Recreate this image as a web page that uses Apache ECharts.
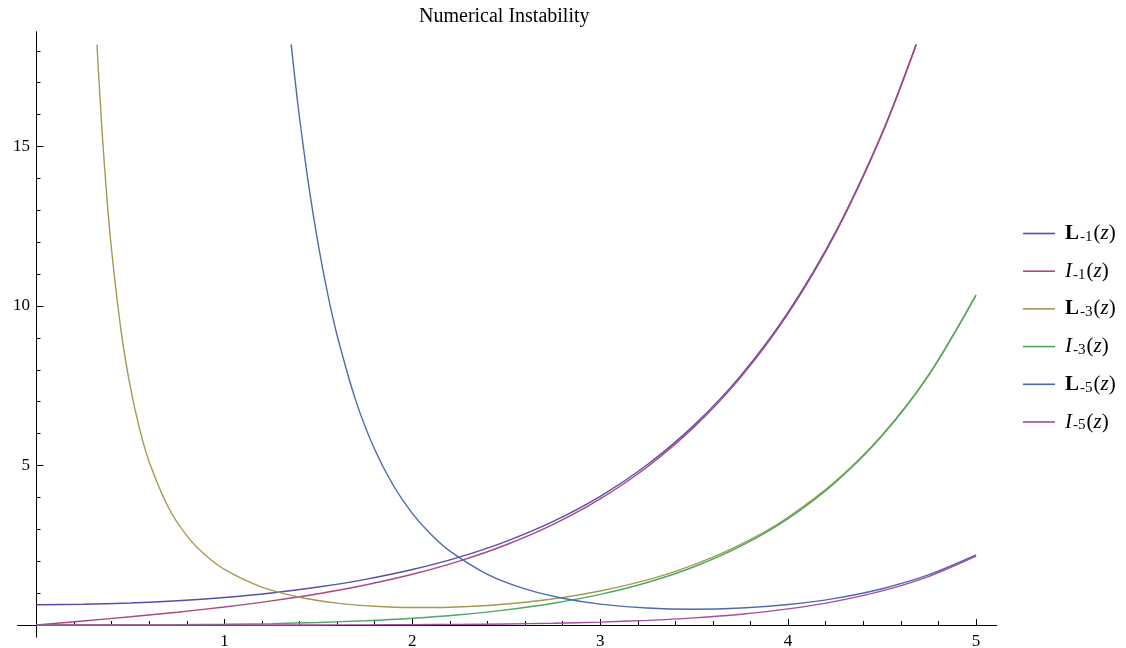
<!DOCTYPE html>
<html><head><meta charset="utf-8">
<script src="https://cdn.jsdelivr.net/npm/echarts@6/dist/echarts.min.js"></script>
<style>html,body{margin:0;padding:0;background:#fff}#c{width:1126px;height:648px}</style>
</head><body><div id="c"></div>
<script>
// ---- data ----
const seriesNames = ['L1', 'I1', 'L3', 'I3', 'L5', 'I5'];

const zL1 = [0,0.25,0.5,0.75,1,1.25,1.5,1.75,2,2.25,2.5,2.75,3,3.25,3.5,3.75,4,4.25,4.5,4.681];
const vL1 = [0.6366,0.6499,0.6906,0.7605,0.8634,1.0043,1.1905,1.4314,1.7394,2.1304,2.6247,3.2480,4.0332,5.0218,6.2662,7.8328,9.8061,12.292,15.426,18.2];

const zI1 = [0,0.25,0.5,0.75,1,1.25,1.5,1.75,2,2.25,2.5,2.75,3,3.25,3.5,3.75,4,4.25,4.5,4.683];
const vI1 = [0,0.1260,0.2579,0.4020,0.5652,0.7553,0.9817,1.2555,1.5906,2.0040,2.5167,3.1554,3.9534,4.9525,6.2058,7.7800,9.7595,12.2508,15.3892,18.2];

const zL3 = [0.322,0.33,0.35,0.375,0.4,0.45,0.5,0.55,0.6,0.7,0.8,0.9,1.0,1.2,1.4,1.6,1.8,2.0,2.2,2.4,2.6,2.8,3.0,3.2,3.4,3.6,3.8,4.0,4.25,4.5,4.75,5.0];
const vL3 = [18.2,17.330,15.384,13.375,11.731,9.228,7.438,6.115,5.109,3.708,2.802,2.184,1.746,1.188,0.870,0.686,0.587,0.547,0.558,0.613,0.713,0.862,1.067,1.336,1.683,2.126,2.682,3.379,4.494,5.955,7.863,10.347];

const zI3 = [0,0.25,0.5,0.75,1,1.25,1.5,1.75,2,2.25,2.5,2.75,3,3.25,3.5,3.75,4,4.25,4.5,4.75,5];
const vI3 = [0,0.0003,0.0026,0.0091,0.0222,0.0448,0.0808,0.1347,0.2127,0.3226,0.4744,0.6811,0.9598,1.3321,1.8264,2.4791,3.3373,4.4616,5.9300,7.8432,10.3311];

const zL5 = [1.3555,1.375,1.4,1.45,1.5,1.55,1.6,1.7,1.8,1.9,2.0,2.1,2.2,2.4,2.6,2.8,3.0,3.25,3.5,3.75,4.0,4.25,4.5,4.75,5.0];
const vL5 = [18.2,17.136,15.895,13.726,11.907,10.374,9.074,7.019,5.502,4.365,3.500,2.835,2.317,1.590,1.132,0.839,0.655,0.531,0.494,0.532,0.644,0.836,1.138,1.577,2.195];

const zI5 = [0,0.5,1,1.5,1.75,2,2.25,2.5,2.75,3,3.25,3.5,3.75,4,4.25,4.5,4.75,5];
const vI5 = [0,0.0000081,0.00027,0.00217,0.00485,0.00983,0.01849,0.03284,0.05575,0.09120,0.14475,0.22397,0.33927,0.50472,0.73925,1.06835,1.52609,2.15793];

const xMajorTicks = [1,2,3,4,5];
const xMinorTicks = [0.2,0.4,0.6,0.8,1.2,1.4,1.6,1.8,2.2,2.4,2.6,2.8,3.2,3.4,3.6,3.8,4.2,4.4,4.6,4.8];
const yMajorTicks = [5,10,15];
const yMinorTicks = [1,2,3,4,6,7,8,9,11,12,13,14,16,17,18];

// ---- chart ----
const zs = [zL1, zI1, zL3, zI3, zL5, zI5];
const vs = [vL1, vI1, vL3, vI3, vL5, vI5];
const colors = ['rgb(82,80,172)','rgb(170,72,128)','rgb(166,153,82)','rgb(76,166,100)','rgb(76,106,172)','rgb(166,76,160)'];
const legendRich = {
  L1: '{b|L}{s|-1}{n|(}{i|z}{n|)}',
  I1: '{i|I}{s|-1}{n|(}{i|z}{n|)}',
  L3: '{b|L}{s|-3}{n|(}{i|z}{n|)}',
  I3: '{i|I}{s|-3}{n|(}{i|z}{n|)}',
  L5: '{b|L}{s|-5}{n|(}{i|z}{n|)}',
  I5: '{i|I}{s|-5}{n|(}{i|z}{n|)}'
};
const FONT = 'Liberation Serif';

const chart = echarts.init(document.getElementById('c'), null, {renderer: 'canvas'});

function xAxisDef(ticks, len, labels) {
  return {
    type: 'value', min: -0.1, max: 5.11, position: 'bottom',
    axisLine: {show: true, onZero: true, lineStyle: {color: '#000', width: 1}},
    axisTick: {show: true, inside: true, length: len, customValues: ticks, lineStyle: {color: '#000', width: 1}},
    axisLabel: labels ? {show: true, customValues: ticks, margin: -4, fontFamily: FONT, fontSize: 17, color: '#000'} : {show: false},
    splitLine: {show: false}
  };
}
function yAxisDef(ticks, len, labels) {
  return {
    type: 'value', min: -0.376, max: 18.59, position: 'left',
    axisLine: {show: true, onZero: true, lineStyle: {color: '#000', width: 1}},
    axisTick: {show: true, inside: true, length: len, customValues: ticks, lineStyle: {color: '#000', width: 1}},
    axisLabel: labels ? {show: true, customValues: ticks, margin: -12.3, fontFamily: FONT, fontSize: 17, color: '#000'} : {show: false},
    splitLine: {show: false}
  };
}

chart.setOption({
  animation: false,
  backgroundColor: '#fff',
  title: {
    text: 'Numerical Instability', left: 414, top: 2,
    textStyle: {fontFamily: FONT, fontSize: 20, fontWeight: 'normal', color: '#000'}
  },
  grid: {left: 17.7, top: 32, width: 979, height: 605, containLabel: false, outerBoundsMode: 'none'},
  xAxis: [xAxisDef(xMajorTicks, 6, true), xAxisDef(xMinorTicks, 4, false)],
  yAxis: [yAxisDef(yMajorTicks, 7, true), yAxisDef(yMinorTicks, 4, false)],
  legend: {
    orient: 'vertical', left: 1018, top: 218,
    icon: 'rect', itemWidth: 32, itemHeight: 1.6, itemGap: 16.2,
    data: seriesNames,
    formatter: name => legendRich[name],
    textStyle: {
      fontFamily: FONT, fontSize: 21, color: '#000', padding: [0, 0, 0, 5],
      rich: {
        b: {fontFamily: FONT, fontSize: 21, fontWeight: 'bold', color: '#000', lineHeight: 22, verticalAlign: 'middle'},
        i: {fontFamily: FONT, fontSize: 21, fontStyle: 'italic', color: '#000', lineHeight: 22, verticalAlign: 'middle'},
        n: {fontFamily: FONT, fontSize: 21, color: '#000', lineHeight: 22, verticalAlign: 'middle'},
        s: {fontFamily: FONT, fontSize: 15, color: '#000', lineHeight: 15, verticalAlign: 'bottom', padding: [0, 1, 0, 1]}
      }
    }
  },
  series: seriesNames.map((name, k) => ({
    name: name, type: 'line', xAxisIndex: 0, yAxisIndex: 0,
    data: zs[k].map((z, i) => [z, vs[k][i]]),
    symbol: 'none', showSymbol: false, smooth: 0.3,
    lineStyle: {color: colors[k], width: 1.4},
    itemStyle: {color: colors[k]},
    clip: true
  }))
});
</script>
</body></html>
